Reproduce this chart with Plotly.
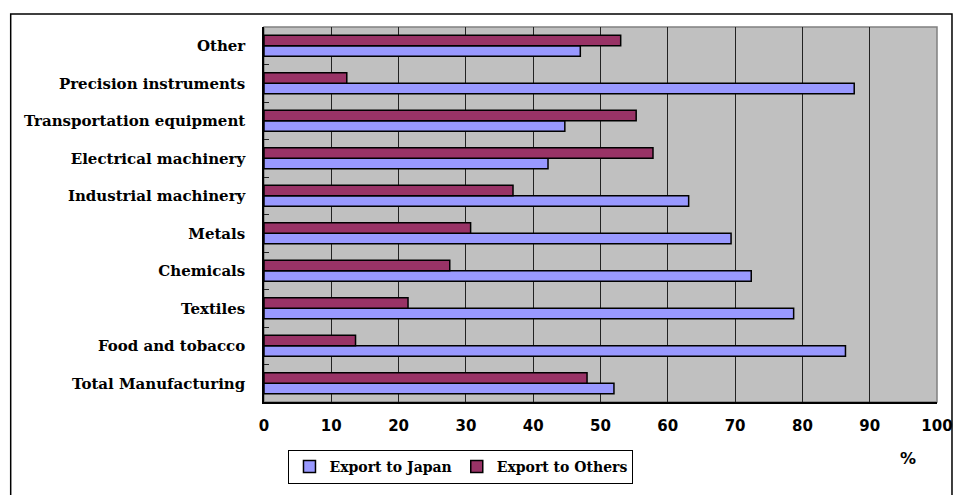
import plotly.graph_objects as go

categories = ["Total Manufacturing", "Food and tobacco", "Textiles", "Chemicals", "Metals",
              "Industrial machinery", "Electrical machinery", "Transportation equipment",
              "Precision instruments", "Other"]
export_japan = [52.0, 86.4, 78.7, 72.4, 69.4, 63.1, 42.2, 44.7, 87.7, 47.0]
export_others = [48.0, 13.6, 21.4, 27.6, 30.7, 37.0, 57.8, 55.3, 12.3, 53.0]
x_ticks = [0, 10, 20, 30, 40, 50, 60, 70, 80, 90, 100]

W, H = 954, 495
L, R, T, B = 263.5, 17, 27, 92.5
pw = W - L - R
ph = H - T - B

def px(x):
    return (x - L) / pw

def py(y):
    return (H - B - y) / ph

fig = go.Figure()
fig.add_trace(go.Bar(y=categories, x=export_japan, orientation="h", name="Export to Japan",
                     marker=dict(color="#9999FF", line=dict(color="black", width=1.5))))
fig.add_trace(go.Bar(y=categories, x=export_others, orientation="h", name="Export to Others",
                     marker=dict(color="#993366", line=dict(color="black", width=1.5))))

fig.update_layout(
    width=W, height=H,
    margin=dict(l=L, r=R, t=T, b=B, autoexpand=False),
    paper_bgcolor="white",
    plot_bgcolor="#C0C0C0",
    barmode="group",
    bargap=0.44,
    bargroupgap=0,
    showlegend=True,
    legend=dict(orientation="h", x=px(288), y=py(450.5), xanchor="left", yanchor="top",
                bgcolor="white", bordercolor="black", borderwidth=1,
                font=dict(family="DejaVu Serif", size=14, color="black", weight="bold"),
                traceorder="normal", itemwidth=30, tracegroupgap=0),
    xaxis=dict(range=[0, 100], tickvals=x_ticks, ticktext=[str(v) for v in x_ticks],
               showgrid=True, gridcolor="#222222", gridwidth=1,
               showline=True, linecolor="black", linewidth=1.5,
               ticks="", ticklabelstandoff=9, zeroline=False,
               tickfont=dict(family="DejaVu Sans", size=15, color="black", weight="bold")),
    yaxis=dict(type="category", categoryorder="array", categoryarray=categories,
               showgrid=False, showline=True, linecolor="black", linewidth=1.5,
               ticks="inside", tickson="boundaries", ticklen=5, tickcolor="#222222",
               ticklabelstandoff=14,
               tickfont=dict(family="DejaVu Serif", size=15, color="black", weight="bold")),
    shapes=[
        dict(type="rect", xref="paper", yref="paper", x0=0, x1=1, y0=0, y1=1,
             line=dict(color="#808080", width=1.5), layer="below"),
        dict(type="rect", xref="paper", yref="paper", x0=px(10), x1=px(952), y0=py(14), y1=py(520),
             line=dict(color="black", width=1.5), fillcolor="rgba(0,0,0,0)", layer="above"),
    ],
    annotations=[
        dict(text="%", xref="paper", yref="paper", x=px(908), y=py(459), xanchor="center",
             yanchor="middle", showarrow=False,
             font=dict(family="DejaVu Sans", size=16, color="black", weight="bold")),
    ],
)

fig.write_html("out.html", config={"displayModeBar": False},
               post_script="document.body.style.margin='0';document.body.style.overflow='hidden';")
